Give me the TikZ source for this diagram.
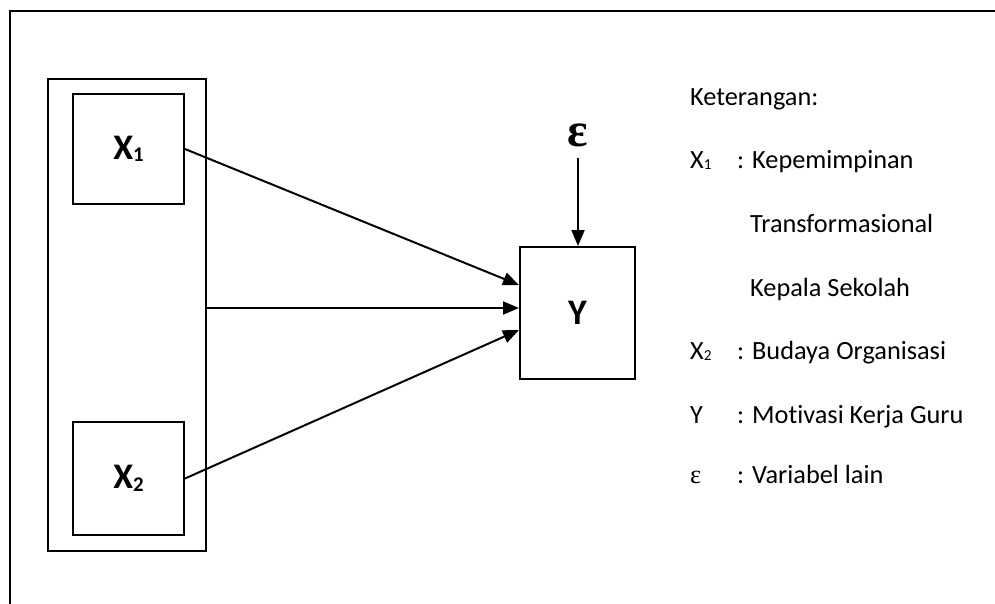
\documentclass[tikz,border=0pt]{standalone}
\usepackage{fontspec}
\setmainfont[Ligatures=NoCommon]{Carlito}
\newfontfamily\grk{Liberation Serif}
\usetikzlibrary{arrows.meta,positioning}
\newcommand{\subidx}[1]{\raisebox{-0.07em}{\scalebox{0.58}{#1}}}

\begin{document}
\begin{tikzpicture}[x=1pt,y=-1pt,
        box/.style={draw,line width=2pt,minimum width=111pt,minimum height=110pt,inner sep=0pt,font=\fontsize{36}{40}\selectfont\bfseries},
        arr/.style={line width=2pt,-{Triangle[length=16pt,width=13pt]}},
        ket/.style={anchor=base west,inner sep=0pt,font=\fontsize{26.3}{30}\selectfont}]
        \useasboundingbox (0,0) rectangle (995,603);
        % bingkai luar
        \draw[line width=2.5pt] (10,640) -- (10,11) -- (1010,11);
        
        \node[draw,line width=2pt,minimum width=158pt,minimum height=472pt] (grup) at (127,315) {};
        \node[box] (x1) at (128.5,149) {X\subidx{1}};
        \node[box,minimum height=113pt] (x2) at (128.5,478.5) {X\subidx{2}};
        \node[box,minimum width=115pt,minimum height=132pt] (y) at (577.5,313) {Y};
        \node[inner sep=4pt,font=\grk\fontsize{48}{50}\selectfont\bfseries] (eps) at (578,135) {ε};
        
        \draw[arr] (x1.east) -- ([yshift=28pt]y.west);
        \draw[arr] ([yshift=5pt]y.west -| grup.east) -- ([yshift=5pt]y.west);
        \draw[arr] (x2.east) -- ([yshift=-17pt]y.west);
        \draw[arr,shorten <=7pt] (eps.south) -- (eps.south |- y.north);
        
        % keterangan
        \node[ket] (ket) at (690,105) {Keterangan:};
        \node[ket] (k1) at (690,168) {X\subidx{1}};
        \node[ket] (d1) at (737,168) {: Kepemimpinan};
        \node[ket] (d1b) at (750,232) {Transformasional};
        \node[ket] (d1c) at (750,296) {Kepala Sekolah};
        \node[ket] (k2) at (690,359) {X\subidx{2}};
        \node[ket] (d2) at (737,359) {: Budaya Organisasi};
        \node[ket] (k3) at (690,423) {Y};
        \node[ket] (d3) at (737,423) {: Motivasi Kerja Guru};
        \node[ket] (k4) at (690,483) {\grk ε};
        \node[ket] (d4) at (737,483) {: Variabel lain};
\end{tikzpicture}
\end{document}
